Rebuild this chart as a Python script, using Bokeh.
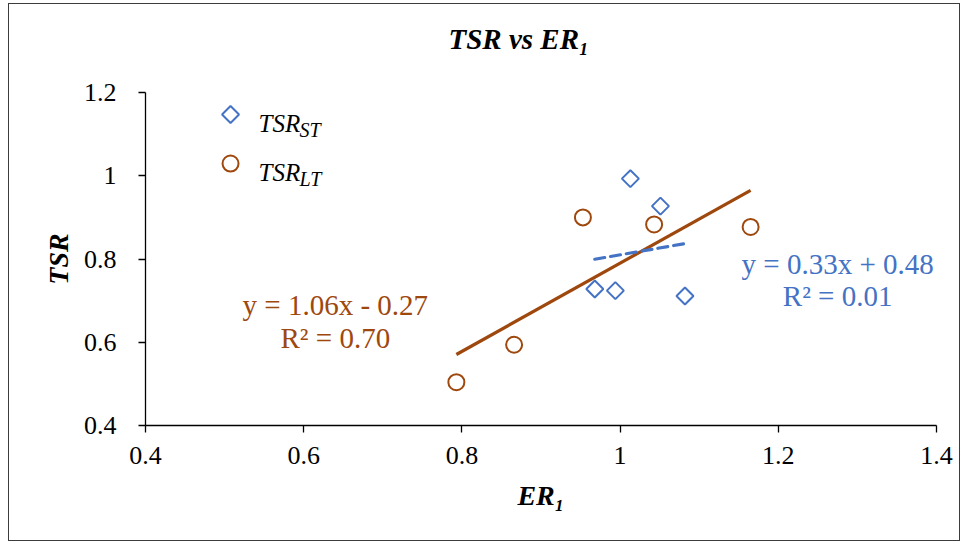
from bokeh.embed import file_html
from bokeh.models import FixedTicker, Label
from bokeh.plotting import figure
from bokeh.resources import INLINE

# ---- data -------------------------------------------------------------
er1_st = [1.013, 1.051, 0.968, 0.994, 1.082]
tsr_st = [0.993, 0.927, 0.728, 0.724, 0.711]

er1_lt = [0.793, 0.866, 0.953, 1.043, 1.165]
tsr_lt = [0.504, 0.594, 0.900, 0.883, 0.877]

# linear trendlines (slope, intercept, R^2)
fit_st = (0.33, 0.48, 0.01)
fit_lt = (1.06, -0.27, 0.70)

x_ticks = [0.4, 0.6, 0.8, 1.0, 1.2, 1.4]
x_tick_labels = ["0.4", "0.6", "0.8", "1", "1.2", "1.4"]
y_ticks = [0.4, 0.6, 0.8, 1.0, 1.2]
y_tick_labels = ["0.4", "0.6", "0.8", "1", "1.2"]

BLUE = "#4472C4"
BROWN = "#9E480E"
FONT = "Liberation Serif"

# ---- figure -----------------------------------------------------------
p = figure(
    width=950, height=536,
    x_range=(0.4, 1.4), y_range=(0.4, 1.2),
    output_backend="svg", toolbar_location=None,
    min_border_left=136, min_border_right=23,
    min_border_top=88, min_border_bottom=115,
)
p.margin = (4, 0, 0, 9)
p.styles = {"outline": "1px solid #3c3c3c"}
p.outline_line_color = None
p.xgrid.grid_line_color = None
p.ygrid.grid_line_color = None

# chart title (a blank second line lifts it away from the plot area)
p.title.text = "TSR vs ER\u2081\n "
p.title.text_font = FONT
p.title.text_font_size = "29px"
p.title.text_font_style = "bold italic"
p.title.text_line_height = 1.0
p.title.text_color = "black"
p.title.align = "left"
p.title.offset = 303
p.title.standoff = 12

for ax, ticks, labels, standoff in (
    (p.xaxis[0], x_ticks, x_tick_labels, 14),
    (p.yaxis[0], y_ticks, y_tick_labels, 22),
):
    ax.ticker = FixedTicker(ticks=ticks)
    ax.major_label_overrides = dict(zip(ticks, labels))
    ax.axis_line_color = "black"
    ax.axis_line_width = 1.3
    ax.major_tick_line_color = "black"
    ax.major_tick_line_width = 1.3
    ax.major_tick_in = 0
    ax.major_tick_out = 7
    ax.minor_tick_line_color = None
    ax.major_label_standoff = standoff
    ax.major_label_text_font = FONT
    ax.major_label_text_font_size = "26px"
    ax.major_label_text_color = "black"
    ax.axis_label_text_font = FONT
    ax.axis_label_text_font_size = "28px"
    ax.axis_label_text_font_style = "bold italic"
    ax.axis_label_text_color = "black"

p.xaxis.axis_label = "ER\u2081"
p.xaxis.axis_label_standoff = 13
p.yaxis.axis_label = "TSR"
p.yaxis.axis_label_standoff = 7

# ---- trendlines -------------------------------------------------------
def trend_xy(xs, fit):
    m, b, _ = fit
    x0, x1 = min(xs), max(xs)
    return [x0, x1], [m * x0 + b, m * x1 + b]

lx, ly = trend_xy(er1_lt, fit_lt)
p.line(lx, ly, line_color=BROWN, line_width=3.2)

sx, sy = trend_xy(er1_st, fit_st)
p.line(sx, sy, line_color=BLUE, line_width=3.2, line_dash="10 6", line_cap="round")

# ---- markers ----------------------------------------------------------
DIAMOND = dict(marker="square", angle=0.785398, size=12, fill_color=None,
               line_color=BLUE, line_width=2)
CIRCLE = dict(marker="circle", size=16, fill_color=None,
              line_color=BROWN, line_width=2)

p.scatter(er1_st, tsr_st, **DIAMOND)
p.scatter(er1_lt, tsr_lt, **CIRCLE)

# ---- text helpers -----------------------------------------------------
def text(x, y, s, size, color="black", style="normal", align="left",
         baseline="alphabetic", dx=0, dy=0):
    p.add_layout(Label(
        x=x, y=y, text=s, x_offset=dx, y_offset=dy,
        text_font=FONT, text_font_size=f"{size}px", text_font_style=style,
        text_color=color, text_align=align, text_baseline=baseline,
    ))

def eq_text(m, b):
    sign = "+" if b >= 0 else "-"
    return f"y = {m:.2f}x {sign} {abs(b):.2f}"

# legend
p.scatter([0.5075], [1.147], **DIAMOND)
p.scatter([0.5075], [1.0294], **CIRCLE)
text(0.543, 1.1255, "TSR", 25, style="italic")
text(0.543, 1.1255, "ST", 20, style="italic", dx=41, dy=-6)
text(0.543, 1.0078, "TSR", 25, style="italic")
text(0.543, 1.0078, "LT", 20, style="italic", dx=41, dy=-6)

# trendline equations
text(0.640, 0.689, eq_text(fit_lt[0], fit_lt[1]), 29, color=BROWN,
     align="center", baseline="middle")
text(0.640, 0.610, f"R² = {fit_lt[2]:.2f}", 29, color=BROWN,
     align="center", baseline="middle")
text(1.275, 0.789, eq_text(fit_st[0], fit_st[1]), 29, color=BLUE,
     align="center", baseline="middle")
text(1.275, 0.711, f"R² = {fit_st[2]:.2f}", 29, color=BLUE,
     align="center", baseline="middle")

open("out.html", "w").write(file_html(p, INLINE))
